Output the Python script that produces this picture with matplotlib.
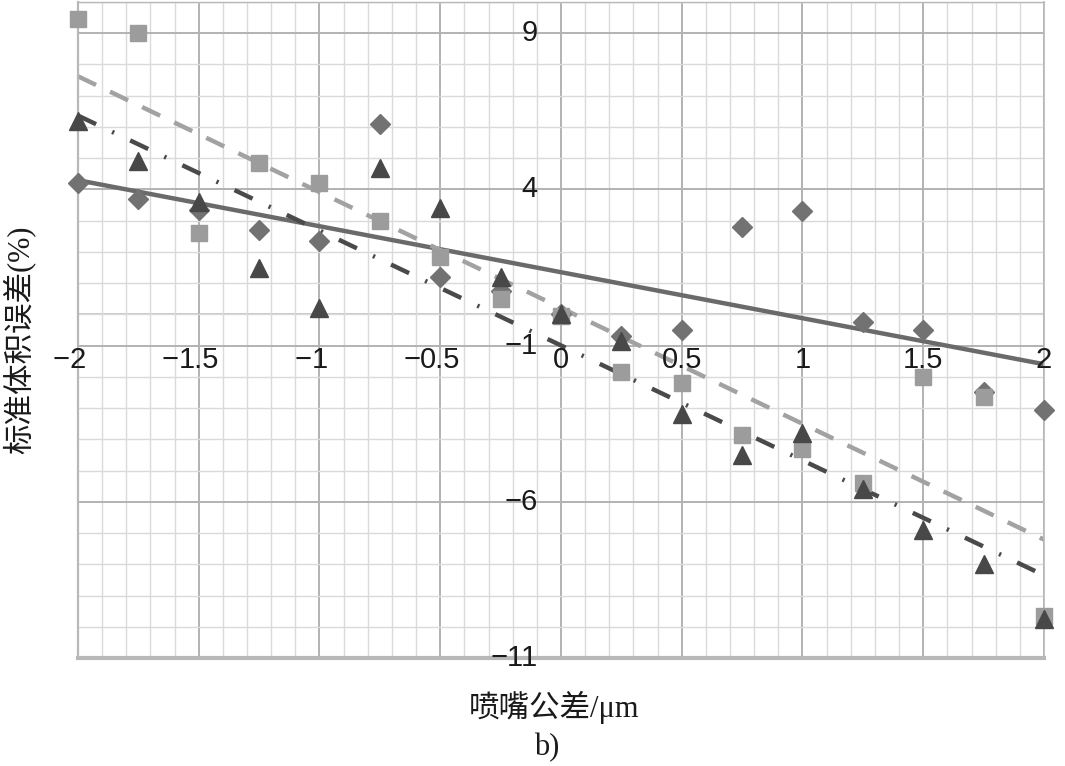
import numpy as np
import matplotlib
matplotlib.use("Agg")
import matplotlib.pyplot as plt

# ---- data ----
x_vals = [-2, -1.75, -1.5, -1.25, -1, -0.75, -0.5, -0.25, 0,
          0.25, 0.5, 0.75, 1, 1.25, 1.5, 1.75, 2]
diamond_vals = [4.2, 3.7, 3.35, 2.7, 2.35, 6.1, 1.2, 0.75, 0.0,
                -0.7, -0.5, 2.8, 3.3, -0.25, -0.5, -2.5, -3.05]
square_vals = [9.45, 9.0, 2.6, 4.85, 4.2, 3.0, 1.85, 0.5, -0.05,
               -1.85, -2.2, -3.85, -4.3, -5.4, -2.0, -2.65, -9.65]
triangle_vals = [6.2, 4.9, 3.6, 1.5, 0.2, 4.7, 3.4, 1.2, 0.0,
                 -0.85, -3.2, -4.5, -3.8, -5.6, -6.9, -8.0, -9.75]

xtick_vals = [-2, -1.5, -1, -0.5, 0, 0.5, 1, 1.5, 2]
xtick_labels = ["−2", "−1.5", "−1", "−0.5", "0", "0.5", "1", "1.5", "2"]
ytick_vals = [9, 4, -1, -6, -11]
ytick_labels = ["9", "4", "−1", "−6", "−11"]

xlabel_text = "喷嘴公差/μm"
ylabel_text = "标准体积误差(%)"
sub_caption = "b)"

# ---- figure ----
fig = plt.figure(figsize=(10.65, 7.66), dpi=100)
fig.patch.set_facecolor("white")
ax = fig.add_axes([78 / 1065, 1 - 658 / 766, (1044 - 78) / 1065, (658 - 2) / 766])
ax.set_xlim(-2, 2)
ax.set_ylim(-11, 10)

# grid
ax.set_xticks(xtick_vals)
ax.set_xticks(np.arange(-2, 2.0001, 0.1), minor=True)
ax.set_yticks(ytick_vals)
ax.set_yticks(np.arange(-11, 10.001, 1), minor=True)
ax.grid(which="minor", color="#dadada", lw=1.0)
ax.grid(which="major", color="#b2b2b2", lw=1.4)
ax.set_axisbelow(True)
ax.tick_params(which="both", length=0, labelbottom=False, labelleft=False)
ax.axhline(0, color="#bdbdbd", lw=1.2, zorder=0.5)

for side, lw in (("left", 1.6), ("bottom", 3.0), ("top", 1.0), ("right", 1.2)):
    ax.spines[side].set_color("#b8b8b8")
    ax.spines[side].set_linewidth(lw)

# trend lines (least squares fits of each series)
xs = np.array([-2.0, 2.0])
series = [
    (diamond_vals, "D", 10, "#727272", "#6a6a6a", "-", None),
    (square_vals, "s", 11.5, "#9c9c9c", "#a2a2a2", "--", (4.5, 3.5)),
    (triangle_vals, "^", 12.5, "#484848", "#4a4a4a", "-.", (4.5, 4, 0.5, 4)),
]
for vals, mk, ms, mcol, lcol, ls, dashes in series:
    k, b = np.polyfit(x_vals, vals, 1)
    line, = ax.plot(xs, k * xs + b, color=lcol, lw=3.2, ls=ls, zorder=2,
                    solid_capstyle="butt", dash_capstyle="butt")
    if dashes is not None:
        line.set_dashes(dashes)

for z, (vals, mk, ms, mcol, lcol, ls, dashes) in enumerate(series):
    ax.plot(x_vals, vals, ls="none", marker=mk, ms=ms, color=mcol,
            mec=mcol, zorder=3 + z, clip_on=False)

# tick labels
tick_font = dict(family="Liberation Sans", size=21, color="#1a1a1a")
for v, lab in zip(xtick_vals, xtick_labels):
    num = lab.lstrip("−")
    t = ax.annotate(num, xy=(v, 0), xycoords="data", xytext=(0, -33),
                    textcoords="offset points", ha="center", va="center",
                    **tick_font)
    if lab.startswith("−"):
        ax.annotate("−", xy=(0, 0.5), xycoords=t, ha="right", va="center",
                    **tick_font)

for v, lab in zip(ytick_vals, ytick_labels):
    ax.annotate(lab, xy=(0, v), xycoords="data", xytext=(-17, 0),
                textcoords="offset points", ha="right", va="center",
                **tick_font)

# axis titles
cjk_font = ["Liberation Serif", "Noto Sans CJK SC", "DejaVu Sans"]
fig.text(19 / 1065, 1 - 340 / 766, ylabel_text, rotation=90, ha="center",
         va="center", family=cjk_font, size=22, color="#1a1a1a")
fig.text(554 / 1065, 1 - 707 / 766, xlabel_text, ha="center", va="center",
         family=cjk_font, size=22, color="#1a1a1a")
fig.text(547 / 1065, 1 - 748 / 766, sub_caption, ha="center", va="center",
         family="Liberation Serif", size=22, color="#1a1a1a")

fig.savefig("out.png", dpi=100, facecolor="white")
